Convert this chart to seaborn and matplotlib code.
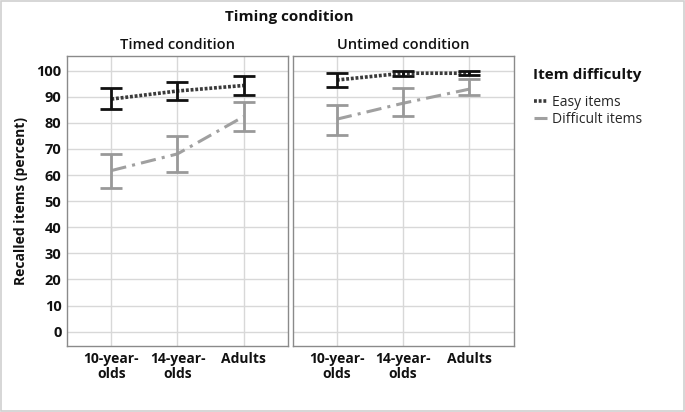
import matplotlib
matplotlib.use("Agg")
import matplotlib.pyplot as plt
import seaborn as sns
import pandas as pd
from matplotlib.lines import Line2D
from matplotlib.patches import Rectangle

# ----------------------------------------------------------
# Data
# ----------------------------------------------------------
groups = ["10-year-\nolds", "14-year-\nolds", "Adults"]
conditions = ["Timed condition", "Untimed condition"]

timed_easy = [89.1, 92.2, 94.3]
timed_easy_lo = [85.2, 88.8, 90.8]
timed_easy_hi = [93.2, 95.5, 97.8]
timed_diff = [61.7, 68.1, 82.4]
timed_diff_lo = [54.9, 61.3, 76.9]
timed_diff_hi = [68.0, 75.1, 88.1]

untimed_easy = [96.4, 99.0, 99.0]
untimed_easy_lo = [93.9, 97.8, 98.2]
untimed_easy_hi = [98.9, 100.0, 100.0]
untimed_diff = [81.4, 87.5, 92.9]
untimed_diff_lo = [75.5, 82.5, 90.7]
untimed_diff_hi = [86.7, 93.3, 96.7]

yticks = list(range(0, 101, 10))

# ----------------------------------------------------------
# Build long table
# ----------------------------------------------------------
rows = []
series = {
    ("Timed condition", "Easy items"): (timed_easy, timed_easy_lo, timed_easy_hi),
    ("Timed condition", "Difficult items"): (timed_diff, timed_diff_lo, timed_diff_hi),
    ("Untimed condition", "Easy items"): (untimed_easy, untimed_easy_lo, untimed_easy_hi),
    ("Untimed condition", "Difficult items"): (untimed_diff, untimed_diff_lo, untimed_diff_hi),
}
for (cond, diff), (m, lo, hi) in series.items():
    for g, mv, l, h in zip(groups, m, lo, hi):
        rows.append({"condition": cond, "difficulty": diff, "group": g,
                     "mean": mv, "lo": l, "hi": h})
df = pd.DataFrame(rows)

# ----------------------------------------------------------
# Figure
# ----------------------------------------------------------
sns.set_theme(style="whitegrid")
plt.rcParams["font.family"] = ["Open Sans", "DejaVu Sans"]

W, H = 685, 412
fig = plt.figure(figsize=(W / 100, H / 100), dpi=100)
fig.patches.append(Rectangle((0.002, 0.003), 0.996, 0.994, transform=fig.transFigure,
                             fill=False, edgecolor="#d0d0d0", linewidth=1.2))

styles = {
    "Easy items": dict(color="#3a3a3a", ls=(0, (0.8, 0.5)), lw=2.6, ecolor="#111111"),
    "Difficult items": dict(color="#a0a0a0", ls=(0, (5, 2, 1, 2)), lw=2.2, ecolor="#999999"),
}

panel_left = [67 / W, 292.5 / W]
panel_w = 221 / W
axes = []
for i, cond in enumerate(conditions):
    ax = fig.add_axes([panel_left[i], (H - 346) / H, panel_w, 290 / H])
    axes.append(ax)
    sub = df[df["condition"] == cond]
    for diff in ["Easy items", "Difficult items"]:
        d = sub[sub["difficulty"] == diff]
        st = styles[diff]
        sns.lineplot(data=d, x="group", y="mean", ax=ax, color=st["color"],
                     linestyle=st["ls"], linewidth=st["lw"], sort=False, zorder=3)
        x = range(len(d))
        ax.errorbar(x, d["mean"], yerr=[d["mean"] - d["lo"], d["hi"] - d["mean"]],
                    fmt="none", ecolor=st["ecolor"], elinewidth=2, capsize=8,
                    capthick=2, zorder=4)
    ax.set_xlim(-0.67, 2.67)
    ax.set_ylim(-5.5, 105.6)
    ax.set_yticks(yticks)
    ax.grid(True, color="#d8d8d8", linewidth=1)
    ax.set_axisbelow(True)
    for s in ax.spines.values():
        s.set_edgecolor("#8a8a8a")
        s.set_linewidth(1)
    ax.tick_params(length=0, pad=4)
    ax.set_xlabel("")
    ax.set_ylabel("")
    ax.set_xticks(range(len(groups)))
    ax.set_xticklabels(groups, fontsize=10, fontweight="bold", color="#111111",
                       linespacing=1.1)
    ax.set_title(cond, fontsize=10.5, fontweight="semibold", color="#111111", pad=5)
    if i == 0:
        ax.set_yticklabels([str(t) for t in yticks], fontsize=10.5, fontweight="bold",
                           color="#111111")
        ax.set_ylabel("Recalled items (percent)", fontsize=10, fontweight="bold",
                      color="#111111", labelpad=6)
    else:
        ax.set_yticklabels([])

fig.text(289 / W, 1 - 17 / H, "Timing condition", ha="center", va="center",
         fontsize=11, fontweight="bold", color="#111111")

# legend: title as its own text, entries below it
fig.text(533 / W, 1 - 75 / H, "Item difficulty", ha="left", va="center",
         fontsize=11, fontweight="bold", color="#111111")
handles = [Line2D([0], [0], color=styles[k]["color"], linestyle=styles[k]["ls"],
                  linewidth=styles[k]["lw"]) for k in ["Easy items", "Difficult items"]]
fig.legend(handles, ["Easy items", "Difficult items"],
           loc="upper left", bbox_to_anchor=(521 / W, 1 - 82 / H),
           frameon=False, fontsize=10, handlelength=1.0, handletextpad=0.3,
           labelspacing=0.2)

fig.savefig("out.png", dpi=100)
